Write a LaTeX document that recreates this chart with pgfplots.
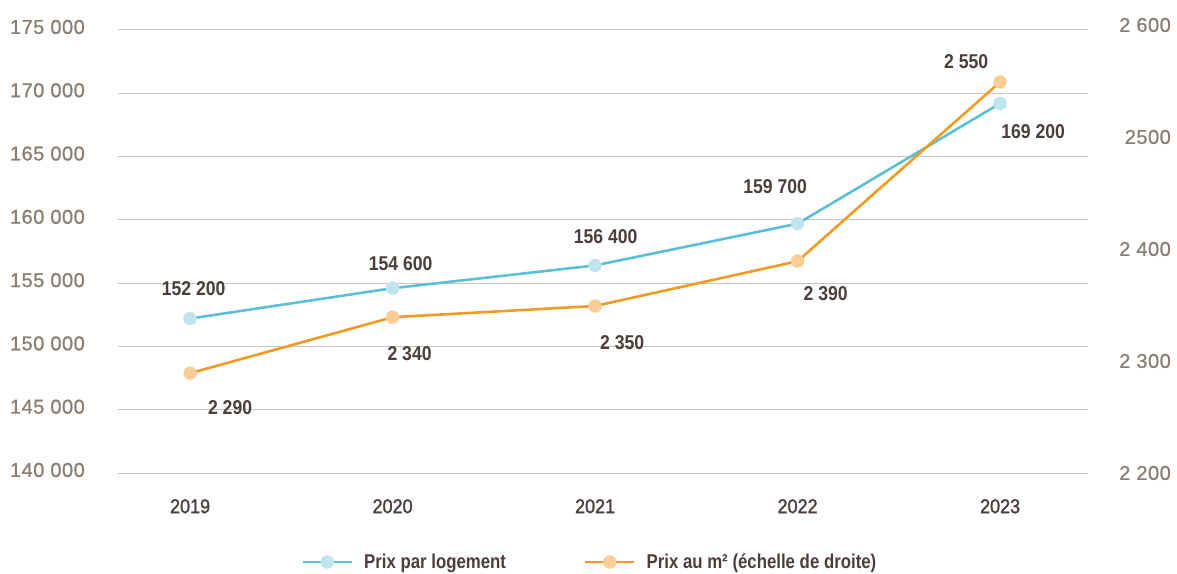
\documentclass[border=0pt]{standalone}
\usepackage{fontspec}
\setmainfont{Liberation Sans}
\newfontfamily\narrowfont[FakeStretch=0.88]{Liberation Sans}
\newfontfamily\legfont[FakeStretch=0.84]{Liberation Sans}
\newfontfamily\yearfont[FakeStretch=0.9, FakeBold=1.3]{Liberation Sans}
\newfontfamily\tickfont[LetterSpace=2.5, FakeBold=0.9]{Liberation Sans}
\usepackage{pgfplots}
\pgfplotsset{compat=1.18}
\definecolor{gridc}{HTML}{CEC4BE}
\definecolor{tickc}{HTML}{8C7D73}
\definecolor{labc}{HTML}{4B3E3B}
\definecolor{blueline}{HTML}{5CBFD6}
\definecolor{bluefill}{HTML}{BEE4EE}
\definecolor{orangeline}{HTML}{F29B22}
\definecolor{orangefill}{HTML}{FBCD96}
\tikzset{dlab/.style={font=\narrowfont\bfseries\fontsize{20}{24}\selectfont, text=labc, inner sep=0pt, anchor=center}}
\begin{document}
\begin{tikzpicture}[x=1pt,y=1pt]
\useasboundingbox (0,0) rectangle (1177,573);
\begin{axis}[
  at={(118pt,100pt)}, anchor=south west, scale only axis,
  width=970pt, height=443pt,
  xmin=2018.644, xmax=2023.434, ymin=140000, ymax=175000,
  scaled y ticks=false, scaled x ticks=false,
  ytick={140000,145000,150000,155000,160000,165000,170000,175000},
  yticklabels={140 000,145 000,150 000,155 000,160 000,165 000,170 000,175 000},
  xtick={2019,2020,2021,2022,2023},
  xticklabels={2019,2020,2021,2022,2023},
  axis line style={draw=none}, major tick length=0pt, tick style={draw=none},
  ymajorgrids, major grid style={draw=gridc, line width=1pt},
  yticklabel style={font=\tickfont\fontsize{20}{24}\selectfont, text=tickc, inner sep=0pt, anchor=east, xshift=-33pt, yshift=3pt},
  xticklabel style={font=\yearfont\fontsize{20}{24}\selectfont, text=labc, inner sep=0pt, anchor=north, yshift=-26pt},
  clip=false,
  legend columns=2,
  legend style={at={(rel axis cs:0.1892,-0.2009)}, anchor=west, draw=none, fill=none,
    inner sep=0pt, outer sep=0pt,
    font=\legfont\bfseries\fontsize{20}{24}\selectfont, text=labc,
    column sep=11pt, /tikz/every even column/.append style={column sep=78pt},
    nodes={inner sep=0pt}},
  legend image code/.code={\draw[#1, mark repeat=2, mark phase=2] plot coordinates {(0pt,0pt) (24.5pt,0pt) (49pt,0pt)};},
]
\addplot[line width=2.6pt, color=blueline, mark=*, mark size=6.6pt, mark options={draw=bluefill, fill=bluefill, line width=0.1pt}]
  coordinates {(2019,152200) (2020,154600) (2021,156400) (2022,159700) (2023,169200)};
\addlegendentry{Prix par logement}
\addlegendimage{line width=2.6pt, color=orangeline, mark=*, mark size=6.6pt, mark options={draw=orangefill, fill=orangefill, line width=0.1pt}}
\addlegendentry{Prix au m² (échelle de droite)}
\node[dlab, xshift=3.5pt, yshift=29.6pt] at (axis cs:2019,152200) {152 200};
\node[dlab, xshift=8pt, yshift=25pt] at (axis cs:2020,154600) {154 600};
\node[dlab, xshift=10.5pt, yshift=29pt] at (axis cs:2021,156400) {156 400};
\node[dlab, xshift=-22.5pt, yshift=37pt] at (axis cs:2022,159700) {159 700};
\node[dlab, xshift=33pt, yshift=-28.6pt] at (axis cs:2023,169200) {169 200};
\end{axis}
\begin{axis}[
  at={(118pt,99pt)}, anchor=south west, scale only axis,
  width=970pt, height=448pt,
  xmin=2018.644, xmax=2023.434, ymin=2200, ymax=2600,
  scaled y ticks=false,
  axis y line*=right, axis x line=none,
  ytick={2200,2300,2400,2500,2600},
  yticklabels={2 200,2 300,2 400,2500,2 600},
  axis line style={draw=none}, major tick length=0pt, tick style={draw=none},
  yticklabel style={font=\tickfont\fontsize{20}{24}\selectfont, text=tickc, inner sep=0pt, anchor=east, xshift=83pt, yshift=1pt},
  clip=false,
]
\addplot[line width=2.6pt, color=orangeline, mark=*, mark size=6.6pt, mark options={draw=orangefill, fill=orangefill, line width=0.1pt}]
  coordinates {(2019,2290) (2020,2340) (2021,2350) (2022,2390) (2023,2550)};
\node[dlab, xshift=40pt, yshift=-34pt] at (axis cs:2019,2290) {2 290};
\node[dlab, xshift=17pt, yshift=-36pt] at (axis cs:2020,2340) {2 340};
\node[dlab, xshift=27pt, yshift=-37pt] at (axis cs:2021,2350) {2 350};
\node[dlab, xshift=28pt, yshift=-32pt] at (axis cs:2022,2390) {2 390};
\node[dlab, xshift=-34pt, yshift=20pt] at (axis cs:2023,2550) {2 550};
\end{axis}
\end{tikzpicture}
\end{document}
